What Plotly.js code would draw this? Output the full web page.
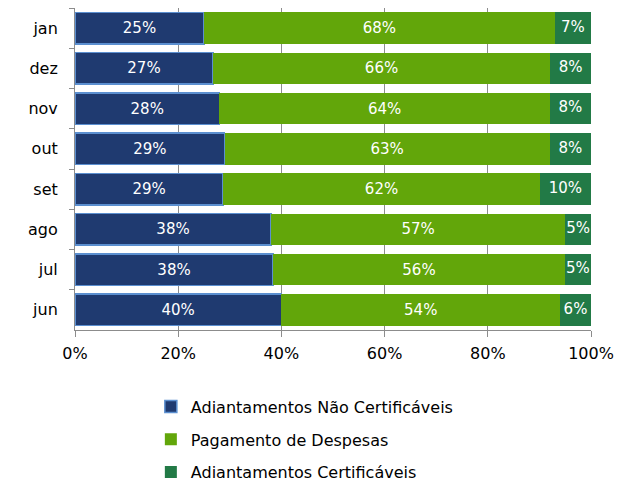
<!DOCTYPE html>
<html><head><meta charset="utf-8">
<script src="https://cdn.plot.ly/plotly-3.0.1.min.js"></script>
<style>html,body{margin:0;padding:0;background:#fff}#chart{width:636px;height:486px}</style>
</head><body><div id="chart"></div>
<script>
const months = ['jan','dez','nov','out','set','ago','jul','jun'];
const naoCertificaveis = [25,27,28,29,29,38,38,40];
const pagamentoDespesas = [68,66,64,63,62,57,56,54];
const certificaveis = [7,8,8,8,10,5,5,6];
const xTickVals = [0,20,40,60,80,100];
const xTickText = ['0%','20%','40%','60%','80%','100%'];

const FONT = 'DejaVu Sans, Verdana, sans-serif';
function mk(name, vals, color, line, group, showText){
  return {
    type:'bar', orientation:'h', name:name, y:months, x:vals,
    text: vals.map(v=>v+'%'), textposition: showText ? 'inside' : 'none', insidetextanchor:'middle', textangle:0,
    textfont:{color:'#ffffff', size:15, family:FONT}, constraintext:'none',
    marker:{color:color, line:line},
    legendgroup:group, hoverinfo:'x+y+name'
  };
}
// centre of the last segment, in normalised percent units (same normalisation as barnorm)
const totals = months.map((m,i)=>naoCertificaveis[i]+pagamentoDespesas[i]+certificaveis[i]);
const certCentre = certificaveis.map((v,i)=>100 - (v/totals[i]*100)/2);
const traces = [
  mk('Adiantamentos Não Certificáveis', naoCertificaveis, '#1f3a70', {color:'#5b8fd0', width:1.5}, 'a', true),
  mk('Pagamento de Despesas', pagamentoDespesas, '#62a60a', {width:0}, 'b', true),
  mk('Adiantamentos Certificáveis', certificaveis, '#227a46', {width:0}, 'c', false),
  {type:'scatter', mode:'text', x:certCentre, y:months, text:certificaveis.map(v=>v+'%'),
   textposition:'middle center', textfont:{color:'#ffffff', size:15, family:FONT},
   showlegend:false, hoverinfo:'skip', cliponaxis:false}
];
const layout = {
  width:636, height:486, barmode:'stack', barnorm:'percent', bargap:0.22,
  margin:{l:75, r:45, t:8, b:156, autoexpand:false},
  paper_bgcolor:'#fff', plot_bgcolor:'#fff',
  font:{family:FONT, size:16, color:'#000'},
  xaxis:{range:[0,100], tickvals:xTickVals, ticktext:xTickText, showgrid:true, gridcolor:'#8c8c8c', gridwidth:1,
    showline:true, linecolor:'#8c8c8c', linewidth:1, ticks:'outside', ticklen:6, tickcolor:'#8c8c8c',
    zeroline:false, tickfont:{size:16, family:FONT}, ticklabelstandoff:3, fixedrange:true},
  yaxis:{autorange:'reversed', type:'category', showline:true, linecolor:'#8c8c8c', linewidth:1,
    ticks:'outside', tickson:'boundaries', ticklen:5, tickcolor:'#8c8c8c', showgrid:false,
    tickfont:{size:16, family:FONT}, ticklabelstandoff:13},
  showlegend:true,
  legend:{x:0.147, xanchor:'left', y:-0.185, yanchor:'top', orientation:'v', traceorder:'grouped',
    tracegroupgap:9, font:{size:16, family:FONT}, itemwidth:30}
};
Plotly.newPlot('chart', traces, layout, {displayModeBar:false, staticPlot:true});
</script></body></html>
